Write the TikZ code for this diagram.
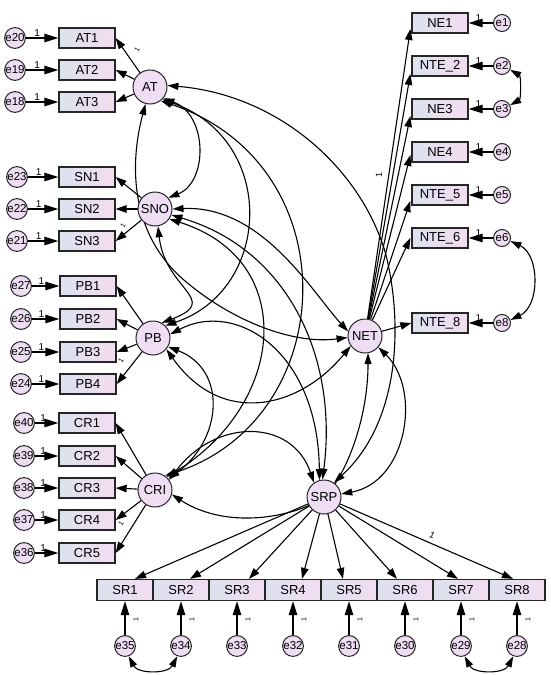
\documentclass[tikz,border=0pt]{standalone}
\usepackage{fontspec}
\setmainfont{Liberation Sans}
\usetikzlibrary{arrows.meta,calc}
\definecolor{obsL}{HTML}{DCE2EE}
\definecolor{obsR}{HTML}{F3DCF0}
\definecolor{latF}{HTML}{EEDDF3}
\pgfdeclarelayer{bg}
\pgfsetlayers{bg,main}
\tikzset{
  obs/.style={draw=black!85, line width=1.3pt, minimum width=56pt, minimum height=20pt, inner sep=0pt,
    left color=obsL, right color=obsR, font=\fontsize{13}{13}\selectfont},
  lat/.style={circle, draw=black!85, line width=1pt, minimum size=34pt, inner sep=0pt, fill=latF,
    font=\fontsize{13}{13}\selectfont},
  err/.style={circle, draw=black!85, line width=1pt, minimum size=17pt, inner sep=0pt, fill=latF,
    font=\fontsize{11.5}{11.5}\selectfont},
  arr/.style={-{Triangle[length=11pt,width=7.5pt]}, line width=1.1pt},
  earr/.style={-{Triangle[length=14pt,width=8.5pt]}, line width=1.1pt},
  cov/.style={{Triangle[length=11pt,width=7pt]}-{Triangle[length=11pt,width=7pt]}, line width=1.1pt},
  lbl/.style={font=\fontsize{10}{10}\selectfont, inner sep=1pt},
  tlbl/.style={font=\fontsize{7}{7}\selectfont, inner sep=0pt},
}
\begin{document}
\begin{tikzpicture}[x=1pt,y=-1pt]
\useasboundingbox (0,0) rectangle (550,675);

% latent factors
\node[lat] (AT)  at (150,87)  {AT};
\node[lat] (SNO) at (155,209) {SNO};
\node[lat] (PB)  at (153,338) {PB};
\node[lat] (CRI) at (155,490) {CRI};
\node[lat] (NET) at (365,336) {NET};
\node[lat] (SRP) at (324,497) {SRP};

% left indicators and errors
\foreach \n/\x/\y/\e/\ex in {AT1/87/38/e20/15, AT2/87/70/e19/15, AT3/87/102/e18/15,
  SN1/87/177/e23/17, SN2/87/209/e22/17, SN3/87/241/e21/17,
  PB1/88/286/e27/21, PB2/88/319/e26/21, PB3/88/352/e25/21, PB4/88/384/e24/21,
  CR1/87/423/e40/24, CR2/87/456/e39/24, CR3/87/488/e38/24, CR4/87/520/e37/24, CR5/87/553/e36/24}{
  \node[obs] (\n) at (\x,\y) {\n};
  \node[err] (\e) at (\ex,\y) {\e};
  \begin{pgfonlayer}{bg}
  \draw[earr] (\e) -- node[lbl, above, pos=0.35] {1} (\n);
  \end{pgfonlayer}
}

% right indicators and errors
\foreach \n/\t/\y/\e in {N1/NE1/23/e1, N2/NTE\_2/66/e2, N3/NE3/109/e3, N4/NE4/152/e4,
  N5/NTE\_5/195/e5, N6/NTE\_6/238/e6, N8/NTE\_8/323/e8}{
  \node[obs] (\n) at (440,\y) {\t};
  \node[err] (\e) at (502,\y) {\e};
  \begin{pgfonlayer}{bg}
  \draw[earr] (\e) -- node[lbl, above, pos=0.6] {1} (\n);
  \end{pgfonlayer}
}

% bottom indicators and errors
\foreach \i/\e/\dx in {1/e35/10, 2/e34/9, 3/e33/12, 4/e32/9, 5/e31/-6, 6/e30/-8, 7/e29/-3, 8/e28/-4}{
  \node[obs, minimum width=56pt, minimum height=21pt] (SR\i) at ({125+56*(\i-1)},590) {SR\i};
  \node[err] (\e) at ({125+56*(\i-1)},646) {\e};
  \begin{pgfonlayer}{bg}
  \draw[earr] (\e) -- (SR\i);
  \draw[arr] (SRP) -- ($(SR\i.north)+(\dx,0)$);
  \end{pgfonlayer}
  \node[tlbl, rotate=90] (one\i) at ({136+56*(\i-1)},620) {1};
}

\begin{pgfonlayer}{bg}
% loadings
\foreach \n in {AT1,AT2,AT3} \draw[arr] (AT) -- (\n.east);
\foreach \n in {SN1,SN2,SN3} \draw[arr] (SNO) -- (\n.east);
\foreach \n in {PB1,PB2,PB3,PB4} \draw[arr] (PB) -- (\n.east);
\foreach \n in {CR1,CR2,CR3,CR4,CR5} \draw[arr] (CRI) -- (\n.east);
\foreach \n/\d in {N1/6, N2/8, N3/7, N4/3, N5/6, N6/0}
  \draw[arr] (NET) -- ($(\n.west)+(-1,\d)$);
\draw[arr] (NET) -- (N8.west);

% error covariances
\draw[cov] (e2.-25) .. controls (521,76) and (521,99) .. (e3.25);
\draw[cov] (e6.-20) .. controls (540,255) and (540,306) .. (e8.20);
\draw[cov] (e35.-70) .. controls (138,674) and (168,674) .. (e34.-110);
\draw[cov] (e29.-70) .. controls (474,674) and (504,674) .. (e28.-110);

% factor covariances
\draw[cov] (AT.-40) .. controls (208,115) and (208,182) .. (SNO.40);
\draw[cov] (AT.-45) .. controls (278,140) and (272,290) .. (PB.45);
\draw[cov] (AT.-52) .. controls (352,165) and (340,420) .. (CRI.55);
\draw[cov] (AT.-105) .. controls (128,170) and (132,240) .. (190,285) .. controls (230,318) and (290,345) .. (NET.185);
\draw[cov] (AT.5) .. controls (280,95) and (362,170) .. (386,255) .. controls (402,320) and (402,420) .. (SRP.55);
\draw[cov] (SNO.-80) .. controls (165,290) and (222,300) .. (PB.60);
\draw[cov] (SNO.-35) .. controls (300,260) and (285,405) .. (CRI.48);
\draw[cov] (SNO.0) .. controls (262,205) and (312,292) .. (NET.165);
\draw[cov] (SNO.-20) .. controls (290,250) and (338,360) .. (SRP.95);
\draw[cov] (PB.-30) .. controls (228,370) and (222,440) .. (CRI.40);
\draw[cov] (PB.-40) .. controls (222,428) and (300,408) .. (NET.-145);
\draw[cov] (PB.12) .. controls (235,300) and (318,350) .. (SRP.105);
\draw[cov] (CRI.35) .. controls (215,418) and (292,418) .. (SRP.125);
\draw[cov] (CRI.-15) .. controls (230,532) and (300,515) .. (324,497) .. controls (345,478) and (368,420) .. (NET.-80);
\draw[cov] (NET.-40) .. controls (422,390) and (407,482) .. (SRP.10);
\end{pgfonlayer}

% fixed loading labels
\node[tlbl, rotate=60] (l1) at (137,50) {1};
\node[tlbl, rotate=60] (l2) at (123,226) {1};
\node[tlbl, rotate=60] (l3) at (121,361) {1};
\node[tlbl, rotate=60] (l4) at (121,524) {1};
\node[tlbl, rotate=90, font=\fontsize{9}{9}\selectfont] (l5) at (379,175) {1};
\node[lbl, rotate=-15, font=\itshape\fontsize{9}{9}\selectfont] (l6) at (432,535) {1};
\end{tikzpicture}
\end{document}
